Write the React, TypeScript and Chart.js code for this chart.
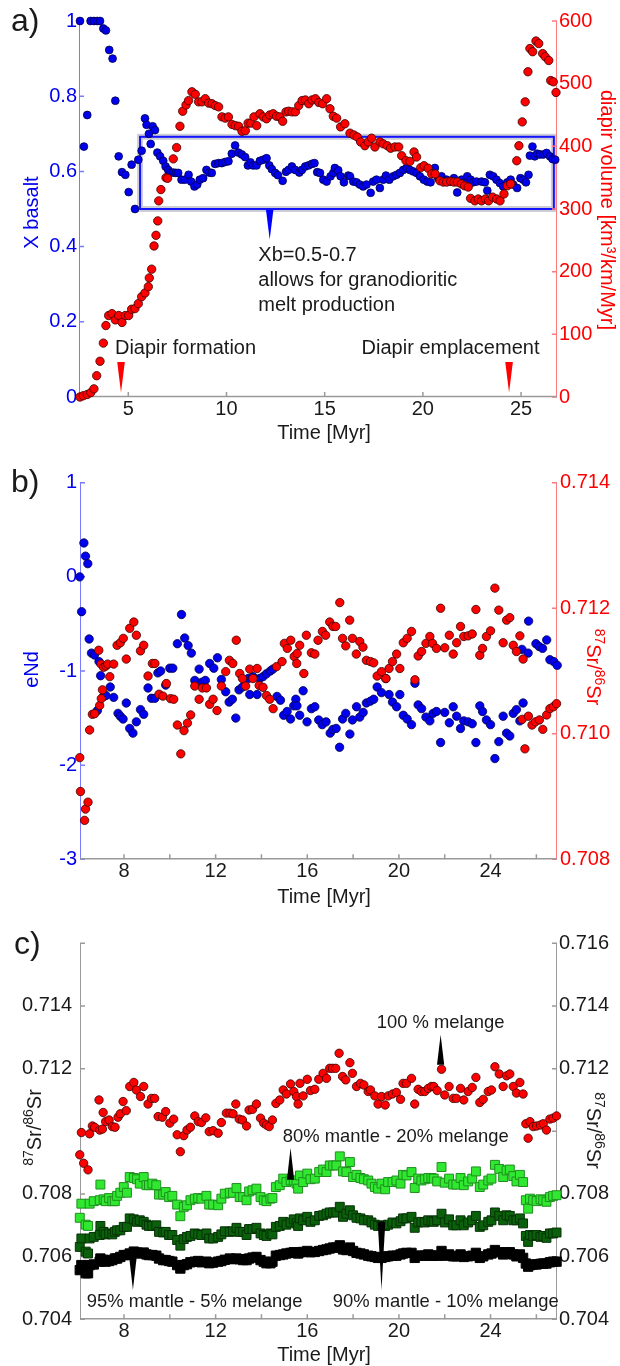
import React, { useEffect, useRef } from 'react';
import { Chart, registerables } from 'chart.js';

Chart.register(...registerables);

const FONT = '"Liberation Sans", Arial, Helvetica, sans-serif';
const INK = '#1a1a1a';
const BLUE = '#0000ee';
const RED = '#ff0000';
const AXIS_BLUE = '#7a7aff';
const AXIS_RED = '#ff7a7a';
const AXIS_GRAY = '#9a9a9a';

// ---------------- Panel a: X basalt and diapir volume ----------------
const aTimeTicks = [5, 10, 15, 20, 25];
const aBasaltTicks = [0, 0.2, 0.4, 0.6, 0.8, 1];
const aVolumeTicks = [0, 100, 200, 300, 400, 500, 600];

const aBasaltTime = [
  2.54, 2.74, 2.91, 3.08, 3.25, 3.42, 3.56, 3.73, 3.86, 4.03,
  4.2, 4.34, 4.51, 4.68, 4.85, 5.02, 5.17, 5.34, 5.51, 5.68,
  5.85, 5.93, 6.05, 6.14, 6.24, 6.36, 6.48, 6.62, 6.78, 6.9,
  7.03, 7.15, 7.29, 7.42, 7.54, 7.71, 7.88, 8.07, 8.2, 8.37,
  8.51, 8.64, 8.81, 8.98, 9.12, 9.25, 9.42, 9.59, 9.76, 9.93,
  10.1, 10.27, 10.44, 10.61, 10.78, 10.95, 11.09, 11.22, 11.36, 11.53,
  11.7, 11.87, 12.04, 12.18, 12.31, 12.48, 12.62, 12.86, 13.03, 13.16,
  13.33, 13.5, 13.71, 13.84, 14.01, 14.18, 14.35, 14.48, 14.62, 14.76,
  14.93, 15.1, 15.3, 15.44, 15.52, 15.69, 15.81, 15.98, 16.2, 16.29,
  16.46, 16.62, 16.79, 16.96, 17.13, 17.34, 17.47, 17.64, 17.81, 17.98,
  18.12, 18.29, 18.49, 18.66, 18.83, 19.0, 19.17, 19.34, 19.51, 19.68,
  19.85, 20.05, 20.22, 20.39, 20.61, 20.78, 20.95, 21.21, 21.38, 21.58,
  21.75, 21.97, 22.09, 22.26, 22.43, 22.56, 22.73, 22.99, 23.16, 23.28,
  23.41, 23.58, 23.75, 23.92, 24.09, 24.3, 24.47, 24.6, 24.8, 24.97,
  25.11, 25.25, 25.38, 25.45, 25.58, 25.7, 25.82, 25.96, 26.13, 26.3,
  26.47, 26.6, 26.74,
];
const aBasaltX = [
  1.0, 0.666, 0.75, 1.0, 1.0, 1.0, 1.0, 0.98, 0.975, 0.923,
  0.9, 0.788, 0.64, 0.598, 0.591, 0.545, 0.618, 0.5, 0.631, 0.655,
  0.741, 0.724, 0.7, 0.673, 0.72, 0.71, 0.65, 0.64, 0.628, 0.613,
  0.604, 0.597, 0.597, 0.596, 0.596, 0.578, 0.578, 0.591, 0.573, 0.56,
  0.565, 0.578, 0.582, 0.604, 0.597, 0.596, 0.62, 0.622, 0.622, 0.625,
  0.627, 0.647, 0.669, 0.65, 0.645, 0.638, 0.616, 0.624, 0.616, 0.616,
  0.628, 0.631, 0.635, 0.616, 0.606, 0.596, 0.59, 0.575, 0.599, 0.604,
  0.613, 0.604, 0.597, 0.604, 0.613, 0.616, 0.62, 0.622, 0.598, 0.596,
  0.578, 0.573, 0.587, 0.596, 0.609, 0.603, 0.587, 0.571, 0.589, 0.587,
  0.573, 0.571, 0.565, 0.56, 0.565, 0.543, 0.573, 0.578, 0.556, 0.578,
  0.589, 0.578, 0.587, 0.591, 0.596, 0.604, 0.609, 0.604, 0.6, 0.596,
  0.587, 0.578, 0.573, 0.571, 0.609, 0.582, 0.587, 0.578, 0.573, 0.582,
  0.544, 0.578, 0.571, 0.587, 0.578, 0.571, 0.573, 0.573, 0.571, 0.549,
  0.591, 0.587, 0.578, 0.569, 0.56, 0.571, 0.578, 0.565, 0.556, 0.582,
  0.578, 0.571, 0.591, 0.642, 0.666, 0.64, 0.647, 0.645, 0.645, 0.649,
  0.64, 0.633, 0.631,
];

const aVolumeTime = [
  2.54, 2.71, 2.91, 3.09, 3.25, 3.39, 3.56, 3.73, 3.86, 4.0,
  4.17, 4.34, 4.51, 4.68, 4.85, 5.02, 5.17, 5.34, 5.51, 5.68,
  5.85, 6.02, 6.07, 6.19, 6.31, 6.41, 6.5, 6.55, 6.66, 6.92,
  7.0, 7.29, 7.46, 7.63, 7.77, 7.94, 8.07, 8.24, 8.41, 8.58,
  8.75, 8.92, 9.09, 9.26, 9.43, 9.6, 9.77, 9.94, 10.1, 10.28,
  10.45, 10.62, 10.79, 10.96, 11.1, 11.24, 11.4, 11.54, 11.7, 11.87,
  12.04, 12.2, 12.38, 12.55, 12.72, 12.86, 13.03, 13.17, 13.34, 13.51,
  13.68, 13.85, 14.02, 14.19, 14.36, 14.53, 14.7, 14.9, 15.1, 15.27,
  15.44, 15.61, 15.81, 16.03, 16.29, 16.49, 16.66, 16.83, 17.05, 17.22,
  17.39, 17.56, 17.82, 17.98, 18.19, 18.36, 18.58, 18.77, 18.92, 19.14,
  19.34, 19.55, 19.68, 19.89, 20.06, 20.27, 20.45, 20.62, 20.87, 21.04,
  21.21, 21.42, 21.58, 21.75, 21.96, 22.13, 22.31, 22.43, 22.65, 22.82,
  22.99, 23.18, 23.35, 23.55, 23.76, 23.93, 24.13, 24.3, 24.47, 24.78,
  24.89, 25.06, 25.21, 25.35, 25.45, 25.59, 25.76, 25.9, 26.1, 26.23,
  26.41, 26.51, 26.64, 26.78,
];
const aVolume = [
  0, 2, 4, 7, 13, 34, 57, 86, 114, 130,
  133, 123, 130, 119, 130, 130, 140, 141, 149, 160,
  166, 176, 190, 204, 241, 258, 281, 313, 331, 350,
  349, 380, 398, 432, 456, 466, 473, 487, 483, 471,
  471, 476, 469, 468, 465, 463, 447, 445, 447, 435,
  433, 432, 424, 425, 437, 437, 447, 433, 452, 447,
  444, 450, 452, 448, 447, 440, 455, 456, 455, 455,
  465, 473, 474, 468, 474, 476, 470, 468, 476, 460,
  448, 445, 431, 436, 421, 418, 415, 407, 401, 407,
  413, 399, 407, 404, 401, 397, 399, 399, 385, 377,
  376, 391, 383, 366, 369, 365, 356, 356, 345, 343,
  343, 344, 343, 343, 340, 337, 335, 317, 313, 316,
  313, 316, 313, 319, 316, 313, 324, 337, 340, 377,
  401, 439, 471, 519, 556, 551, 568, 564, 548, 543,
  537, 505, 503, 486,
];

// ---------------- Panel b: eNd and 87Sr/86Sr ----------------
const bTimeTicks = [8, 10, 12, 14, 16, 18, 20, 22, 24, 26];
const bTimeLabels = [8, 12, 16, 20, 24];
const bNdTicks = [-3, -2, -1, 0, 1];
const bSrTicks = [0.708, 0.71, 0.712, 0.714];

const bNdTime = [
  6.07, 6.15, 6.25, 6.32, 6.42, 6.48, 6.58, 6.71, 6.84, 6.91,
  6.98, 7.11, 7.21, 7.4, 7.55, 7.74, 7.84, 7.96, 8.1, 8.25,
  8.39, 8.54, 8.72, 8.86, 9.05, 9.2, 9.35, 9.48, 9.6, 9.82,
  10.0, 10.13, 10.33, 10.51, 10.65, 10.8, 10.94, 11.09, 11.28, 11.4,
  11.55, 11.74, 11.92, 12.08, 12.25, 12.44, 12.59, 12.73, 12.88, 13.02,
  13.17, 13.42, 13.49, 13.63, 13.81, 13.92, 14.07, 14.22, 14.39, 14.5,
  14.68, 14.83, 14.97, 15.12, 15.27, 15.41, 15.5, 15.55, 15.67, 15.82,
  15.99, 16.18, 16.33, 16.5, 16.65, 16.82, 17.0, 17.12, 17.26, 17.41,
  17.54, 17.68, 17.86, 17.97, 18.15, 18.29, 18.44, 18.58, 18.76, 18.9,
  19.05, 19.24, 19.43, 19.57, 19.72, 19.9, 20.04, 20.19, 20.36, 20.55,
  20.7, 20.84, 20.99, 21.18, 21.35, 21.49, 21.64, 21.82, 22.0, 22.2,
  22.37, 22.52, 22.69, 22.83, 23.02, 23.2, 23.36, 23.53, 23.65, 23.82,
  24.0, 24.19, 24.36, 24.55, 24.7, 24.84, 24.99, 25.13, 25.28, 25.37,
  25.42, 25.64, 25.66, 25.98, 26.12, 26.27, 26.45, 26.59, 26.76, 26.91,
];
const bNd = [
  0.0, -0.37, 0.36, 0.22, 0.14, -0.66, -0.81, -0.83, -1.42, -0.9,
  -1.05, -1.27, -1.26, -1.17, -1.28, -1.45, -1.48, -1.51, -1.34, -1.61,
  -1.66, -1.54, -1.41, -1.46, -1.18, -1.29, -1.29, -1.02, -1.0, -1.15,
  -0.97, -0.97, -0.71, -0.4, -0.65, -0.73, -0.81, -1.1, -0.98, -1.12,
  -1.1, -0.92, -0.97, -0.86, -1.09, -1.22, -1.33, -1.3, -1.5, -1.2,
  -1.17, -1.08, -1.25, -1.06, -1.25, -1.08, -1.06, -1.03, -1.0, -0.98,
  -1.27, -1.31, -1.47, -1.43, -1.51, -1.37, -1.3, -1.37, -1.47, -1.21,
  -1.54, -1.4, -1.38, -1.52, -1.57, -1.54, -1.66, -1.62, -1.61, -1.81,
  -1.51, -1.45, -1.67, -1.52, -1.38, -1.49, -1.44, -1.34, -1.32, -1.3,
  -1.17, -1.23, -1.08, -1.25, -1.33, -1.38, -1.25, -1.47, -1.51, -1.57,
  -1.13, -1.36, -1.4, -1.49, -1.53, -1.45, -1.43, -1.76, -1.44, -1.55,
  -1.38, -1.48, -1.61, -1.53, -1.54, -1.56, -1.76, -1.37, -1.43, -1.52,
  -1.57, -1.93, -1.75, -1.48, -1.66, -1.69, -1.45, -1.41, -1.53, -0.77,
  -1.34, -0.81, -0.47, -0.71, -0.74, -0.76, -0.67, -0.88, -0.9, -0.94,
];

const bSrTime = [
  6.07, 6.1, 6.28, 6.32, 6.43, 6.5, 6.62, 6.72, 6.9, 6.94,
  7.0, 7.01, 7.06, 7.11, 7.21, 7.29, 7.38, 7.55, 7.7, 7.84,
  7.97, 8.1, 8.25, 8.43, 8.54, 8.72, 8.86, 9.05, 9.24, 9.35,
  9.53, 9.7, 9.85, 10.03, 10.17, 10.33, 10.48, 10.62, 10.77, 10.91,
  11.09, 11.28, 11.42, 11.6, 11.74, 11.89, 12.06, 12.25, 12.44, 12.6,
  12.75, 12.9, 13.05, 13.17, 13.31, 13.49, 13.63, 13.81, 13.9, 14.07,
  14.22, 14.36, 14.51, 14.66, 14.9, 15.0, 15.13, 15.28, 15.43, 15.54,
  15.56, 15.67, 15.85, 15.96, 16.18, 16.33, 16.47, 16.66, 16.8, 16.98,
  17.12, 17.24, 17.42, 17.54, 17.68, 17.85, 17.97, 18.14, 18.29, 18.43,
  18.58, 18.76, 18.9, 19.05, 19.24, 19.43, 19.57, 19.72, 19.9, 20.04,
  20.19, 20.36, 20.55, 20.7, 20.84, 20.99, 21.18, 21.35, 21.47, 21.64,
  21.82, 22.0, 22.2, 22.37, 22.52, 22.69, 22.83, 23.02, 23.2, 23.36,
  23.53, 23.65, 23.82, 24.0, 24.19, 24.36, 24.55, 24.7, 24.84, 24.99,
  25.13, 25.28, 25.38, 25.42, 25.5, 25.65, 25.81, 25.96, 26.13, 26.28,
  26.45, 26.59, 26.74, 26.88,
];
const bSr = [
  0.70962, 0.70908, 0.70862, 0.7088, 0.70891, 0.71006, 0.71031, 0.71032, 0.71133, 0.71045,
  0.71111, 0.71056, 0.7107, 0.71106, 0.71108, 0.71111, 0.71091, 0.71111, 0.71141, 0.71145,
  0.71152, 0.71119, 0.71168, 0.71178, 0.71157, 0.71132, 0.71141, 0.71092, 0.71112, 0.71112,
  0.71063, 0.7106, 0.7108, 0.71056, 0.71055, 0.71014, 0.70968, 0.71005, 0.71017, 0.7103,
  0.71076, 0.71055, 0.71073, 0.71073, 0.71047, 0.71055, 0.71037, 0.71076, 0.71099, 0.71117,
  0.71112, 0.71149, 0.71096, 0.71088, 0.71076, 0.71103, 0.71088, 0.71104, 0.71077, 0.71074,
  0.71061, 0.71055, 0.7104, 0.71107, 0.71115, 0.71144, 0.71136, 0.71149, 0.71123, 0.71112,
  0.71128, 0.71141, 0.71096, 0.71157, 0.71129, 0.71127, 0.71149, 0.71163, 0.71157, 0.71178,
  0.71171, 0.71171, 0.71209, 0.71152, 0.7114, 0.71181, 0.71152, 0.71127, 0.71147, 0.71138,
  0.71117, 0.71115, 0.71113, 0.71092, 0.71099, 0.71088, 0.71104, 0.71115, 0.71127, 0.71104,
  0.71145, 0.71152, 0.71163, 0.71086, 0.71124, 0.71131, 0.71144, 0.71155, 0.71144, 0.71136,
  0.712, 0.71137, 0.71157, 0.71127, 0.71145, 0.71171, 0.71155, 0.71156, 0.71159, 0.71198,
  0.71125, 0.71136, 0.71155, 0.71164, 0.71232, 0.71197, 0.71145, 0.71181, 0.71185, 0.71141,
  0.71131, 0.71156, 0.71023, 0.71119, 0.70976, 0.71028, 0.71014, 0.71019, 0.71022, 0.71007,
  0.7103, 0.7104, 0.71043, 0.71048,
];

// ---------------- Panel c: 87Sr/86Sr of mixtures ----------------
const cSrTicks = [0.704, 0.706, 0.708, 0.71, 0.712, 0.714, 0.716];
const cSrLabelsLeft = [0.704, 0.706, 0.708, 0.712, 0.714];
const cSrLabelsRight = [0.704, 0.706, 0.708, 0.712, 0.714, 0.716];

const cMelangeTime = [
  6.07, 6.14, 6.24, 6.43, 6.5, 6.62, 6.72, 6.91, 6.94, 7.06,
  7.09, 7.2, 7.35, 7.49, 7.61, 7.74, 7.84, 7.96, 8.1, 8.25,
  8.43, 8.54, 8.72, 8.86, 9.05, 9.2, 9.34, 9.49, 9.68, 9.82,
  10.0, 10.17, 10.32, 10.46, 10.61, 10.75, 10.9, 11.09, 11.24, 11.38,
  11.57, 11.72, 11.89, 12.11, 12.25, 12.47, 12.62, 12.76, 12.88, 13.03,
  13.17, 13.35, 13.46, 13.61, 13.78, 13.96, 14.1, 14.22, 14.34, 14.48,
  14.63, 14.8, 14.95, 15.09, 15.27, 15.41, 15.53, 15.6, 15.68, 15.82,
  16.0, 16.14, 16.33, 16.5, 16.69, 16.84, 16.98, 17.1, 17.24, 17.39,
  17.54, 17.68, 17.86, 17.97, 18.15, 18.32, 18.47, 18.66, 18.76, 18.95,
  19.09, 19.24, 19.4, 19.53, 19.72, 19.89, 20.07, 20.18, 20.33, 20.55,
  20.69, 20.84, 20.98, 21.13, 21.28, 21.42, 21.52, 21.67, 21.86, 22.0,
  22.19, 22.37, 22.51, 22.69, 22.83, 23.02, 23.2, 23.36, 23.53, 23.68,
  23.9, 24.04, 24.19, 24.38, 24.55, 24.7, 24.84, 24.99, 25.13, 25.28,
  25.42, 25.54, 25.64, 25.72, 25.86, 26.01, 26.18, 26.3, 26.44, 26.59,
  26.73, 26.88,
];
const cMelange100 = [
  0.70925, 0.70996, 0.70898, 0.70877, 0.70992, 0.71017, 0.71013, 0.711, 0.71004, 0.71007,
  0.7106, 0.71031, 0.71036, 0.71015, 0.71013, 0.71045, 0.71056, 0.71095, 0.71066, 0.71143,
  0.71156, 0.71132, 0.71111, 0.71143, 0.71087, 0.71105, 0.71105, 0.71047, 0.71045, 0.71063,
  0.71026, 0.71039, 0.70989, 0.70935, 0.70986, 0.71004, 0.71013, 0.71049, 0.71031, 0.71028,
  0.71043, 0.70999, 0.71002, 0.70994, 0.71028, 0.71058, 0.71058, 0.71056, 0.71087, 0.71039,
  0.71036, 0.71017, 0.71068, 0.7107, 0.71087, 0.71042, 0.71026, 0.7102, 0.71015, 0.71036,
  0.71089, 0.711, 0.71132, 0.71119, 0.71151, 0.71127, 0.71111, 0.71087, 0.71153, 0.71113,
  0.71166, 0.7113, 0.71134, 0.71166, 0.71185, 0.71169, 0.71201, 0.71201, 0.71201, 0.71249,
  0.71175, 0.71164, 0.71219, 0.71185, 0.71143, 0.71153, 0.71148, 0.71127, 0.71132, 0.71113,
  0.71087, 0.71111, 0.71084, 0.71113, 0.71119, 0.71124, 0.71102, 0.71153, 0.71153, 0.71169,
  0.71087, 0.71134, 0.71127, 0.71127, 0.71137, 0.71143, 0.71143, 0.7113, 0.71198, 0.71116,
  0.71143, 0.71105, 0.71105, 0.71137, 0.711, 0.71127, 0.7114, 0.71172, 0.71092, 0.71102,
  0.71127, 0.71132, 0.71206, 0.71183, 0.71143, 0.71177, 0.71183, 0.71143, 0.71122, 0.71156,
  0.71119, 0.71024, 0.70978, 0.71031, 0.71015, 0.71017, 0.7102, 0.71024, 0.71004, 0.71039,
  0.71042, 0.71049,
];

const cMixTime = [
  6.07, 6.14, 6.33, 6.43, 6.5, 6.68, 6.94, 6.97, 7.11, 7.2,
  7.35, 7.49, 7.6, 7.7, 7.84, 7.99, 8.13, 8.25, 8.43, 8.57,
  8.69, 8.86, 8.98, 9.09, 9.24, 9.41, 9.53, 9.71, 9.82, 9.97,
  10.11, 10.32, 10.46, 10.61, 10.75, 10.9, 11.09, 11.24, 11.38, 11.6,
  11.72, 11.89, 12.11, 12.25, 12.4, 12.62, 12.76, 12.91, 13.05, 13.2,
  13.35, 13.46, 13.61, 13.78, 13.96, 14.1, 14.22, 14.39, 14.48, 14.63,
  14.8, 14.95, 15.09, 15.27, 15.41, 15.53, 15.6, 15.68, 15.82, 16.0,
  16.14, 16.33,
  16.52, 16.69, 16.84, 16.98, 17.13, 17.27, 17.42, 17.56, 17.71, 17.86,
  18.0, 18.15, 18.32, 18.47, 18.66, 18.8, 18.95, 19.09, 19.24, 19.4,
  19.53, 19.72, 19.89, 20.07, 20.18, 20.33, 20.55, 20.69, 20.84, 20.98,
  21.13, 21.28, 21.42, 21.52, 21.67, 21.86, 22.0, 22.19, 22.37, 22.51,
  22.69, 22.83, 23.02, 23.2, 23.36, 23.53, 23.68, 23.9, 24.04, 24.19,
  24.38, 24.55, 24.7, 24.84, 24.99, 25.13, 25.28, 25.42, 25.54, 25.64,
  25.72, 25.86, 26.01, 26.18, 26.3, 26.44, 26.59, 26.73, 26.88,
];
const cMantle80 = [
  0.70724, 0.70769, 0.70702, 0.70698, 0.70769, 0.70777, 0.7078, 0.7083, 0.70783, 0.70777,
  0.70787, 0.70777, 0.70777, 0.70794, 0.70804, 0.70822, 0.70804, 0.70854, 0.70851, 0.70847,
  0.70833, 0.70854, 0.70828, 0.70828, 0.70833, 0.70828, 0.70798, 0.70798, 0.70806, 0.7079,
  0.70794, 0.70766, 0.70729, 0.70759, 0.70764, 0.7078, 0.70785, 0.70787, 0.70785, 0.70794,
  0.70766, 0.70766, 0.70764, 0.70785, 0.70801, 0.70804, 0.70804, 0.70819, 0.7079, 0.7079,
  0.7078, 0.70808, 0.70812, 0.70817, 0.7079, 0.7078, 0.70777, 0.70785, 0.70787, 0.70822,
  0.70828, 0.70849, 0.70838, 0.70843, 0.70843, 0.70833, 0.70817, 0.70859, 0.70838, 0.70865,
  0.70847, 0.70849,
  0.7087, 0.70878, 0.7087, 0.70891, 0.70891, 0.70891, 0.7092, 0.70872, 0.7087, 0.70902,
  0.70854, 0.70861, 0.70851, 0.70847, 0.70843, 0.70833, 0.70822, 0.70817, 0.70833, 0.70815,
  0.70838, 0.70838, 0.70843, 0.70833, 0.70861, 0.70859, 0.7087, 0.70819, 0.70849, 0.70843,
  0.70847, 0.70851, 0.70851, 0.70849, 0.7084, 0.70886, 0.70836, 0.70849, 0.7083, 0.7083,
  0.70851, 0.70828, 0.7084, 0.70849, 0.70872, 0.70822, 0.7083, 0.70843, 0.70849, 0.70893,
  0.7088, 0.70854, 0.70875, 0.70878, 0.70857, 0.7084, 0.70861, 0.70838, 0.7078, 0.70753,
  0.70785, 0.7078, 0.70777, 0.70783, 0.7078, 0.70775, 0.7079, 0.70794, 0.70796,
];
const cMantle90 = [
  0.70631, 0.70658, 0.70616, 0.7061, 0.70658, 0.70663, 0.70669, 0.70698, 0.70679, 0.70671,
  0.70674, 0.70671, 0.70679, 0.70684, 0.70684, 0.70695, 0.70695, 0.70722, 0.70719, 0.70711,
  0.70716, 0.70711, 0.70702, 0.70698, 0.70698, 0.707, 0.70679, 0.70677, 0.70679, 0.70669,
  0.70669, 0.70653, 0.70635, 0.70656, 0.70663, 0.70666, 0.70674, 0.70671, 0.70669, 0.70674,
  0.70658, 0.70658, 0.70663, 0.70671, 0.70681, 0.70679, 0.70681, 0.70692, 0.70679, 0.70679,
  0.70669, 0.70688, 0.70688, 0.70692, 0.70674, 0.70669, 0.70666, 0.70674, 0.70671, 0.70695,
  0.70698, 0.70711, 0.70702, 0.70709, 0.70719, 0.70706, 0.70698, 0.70722, 0.70716, 0.70727,
  0.70711, 0.70716,
  0.7073, 0.70732, 0.70737, 0.70741, 0.70741, 0.70741, 0.70759, 0.70727, 0.70737, 0.70748,
  0.70732, 0.70724, 0.70722, 0.70716, 0.70716, 0.70709, 0.70702, 0.70698, 0.707, 0.70698,
  0.70702, 0.70709, 0.70706, 0.70713, 0.70722, 0.70722, 0.70727, 0.70692, 0.70709, 0.70711,
  0.70709, 0.70716, 0.70713, 0.70711, 0.70716, 0.70737, 0.70709, 0.70719, 0.707, 0.707,
  0.70716, 0.707, 0.70709, 0.70716, 0.7073, 0.70695, 0.707, 0.70711, 0.70716, 0.70741,
  0.7073, 0.70716, 0.70732, 0.7073, 0.70716, 0.70716, 0.70722, 0.70706, 0.70666, 0.70647,
  0.70669, 0.70666, 0.70669, 0.70663, 0.70666, 0.7066, 0.70674, 0.70674, 0.70677,
];
const cMantle95 = [
  0.70557, 0.70573, 0.70547, 0.70547, 0.70573, 0.70575, 0.70584, 0.70594, 0.7059, 0.70584,
  0.70586, 0.70589, 0.70594, 0.70594, 0.70599, 0.70605, 0.70605, 0.7061, 0.70616, 0.70613,
  0.7061, 0.70613, 0.70607, 0.70605, 0.70605, 0.70603, 0.70594, 0.70589, 0.70589, 0.70586,
  0.70584, 0.70573, 0.70562, 0.70573, 0.70576, 0.70582, 0.70584, 0.70586, 0.70582, 0.70584,
  0.70579, 0.70581, 0.70584, 0.70586, 0.7059, 0.70594, 0.70592, 0.70594, 0.70592, 0.70589,
  0.70589, 0.70594, 0.70597, 0.70599, 0.70589, 0.70584, 0.70579, 0.70579, 0.70584, 0.70603,
  0.70605, 0.70607, 0.7061, 0.70612, 0.70614, 0.70612, 0.7061, 0.70614, 0.70615, 0.70618,
  0.70614, 0.70615,
  0.70618, 0.70621, 0.70623, 0.70626, 0.70629, 0.70629, 0.70636, 0.70623, 0.70621, 0.70629,
  0.70618, 0.70612, 0.7061, 0.70607, 0.70603, 0.70601, 0.70599, 0.70596, 0.70596, 0.70599,
  0.70601, 0.70603, 0.70603, 0.70607, 0.7061, 0.70612, 0.70612, 0.70596, 0.70603, 0.70603,
  0.70603, 0.70607, 0.70603, 0.70603, 0.70603, 0.70618, 0.70603, 0.70607, 0.70601, 0.70601,
  0.70607, 0.70599, 0.70601, 0.70603, 0.70612, 0.70596, 0.70601, 0.70607, 0.7061, 0.70621,
  0.70614, 0.70607, 0.70614, 0.70614, 0.70607, 0.70601, 0.70607, 0.70596, 0.70578, 0.70568,
  0.70573, 0.70575, 0.70575, 0.70577, 0.70578, 0.70578, 0.70582, 0.70584, 0.70584,
];

// ---------------- helpers ----------------
function pairs(xs: number[], ys: number[]) {
  const n = Math.min(xs.length, ys.length);
  const out: { x: number; y: number }[] = [];
  for (let i = 0; i < n; i++) out.push({ x: xs[i], y: ys[i] });
  return out;
}

function axis(o: any) {
  return {
    type: 'linear',
    position: o.position,
    min: o.min,
    max: o.max,
    grid: { display: false, drawTicks: false },
    border: { display: false },
    ticks: {
      color: o.color,
      font: { family: FONT, size: 20 },
      padding: o.padding,
      autoSkip: false,
      maxRotation: 0,
      minRotation: 0,
      callback: o.label,
    },
    afterBuildTicks: (s: any) => {
      s.ticks = o.values.map((v: number) => ({ value: v }));
    },
    afterFit: (s: any) => {
      if (o.width !== undefined) s.width = o.width;
      if (o.height !== undefined) s.height = o.height;
    },
  };
}

type Part = { text: string; sup?: boolean };

function drawParts(ctx: CanvasRenderingContext2D, parts: Part[], x: number, y: number, rot: number, color: string) {
  ctx.save();
  ctx.fillStyle = color;
  ctx.textBaseline = 'alphabetic';
  ctx.textAlign = 'left';
  let total = 0;
  const widths = parts.map((p) => {
    ctx.font = `${p.sup ? 14 : 20}px ${FONT}`;
    const w = ctx.measureText(p.text).width;
    total += w;
    return w;
  });
  ctx.translate(x, y);
  ctx.rotate(rot);
  let cur = -total / 2;
  parts.forEach((p, i) => {
    ctx.font = `${p.sup ? 14 : 20}px ${FONT}`;
    ctx.fillText(p.text, cur, p.sup ? -8 : 0);
    cur += widths[i];
  });
  ctx.restore();
}

const srParts: Part[] = [
  { text: '87', sup: true },
  { text: 'Sr/' },
  { text: '86', sup: true },
  { text: 'Sr' },
];

function decorPlugin(spec: any) {
  return {
    id: 'decor',
    beforeDatasetsDraw(chart: any) {
      const ctx: CanvasRenderingContext2D = chart.ctx;
      const ca = chart.chartArea;
      if (spec.box) {
        const b = spec.box;
        const xs = chart.scales[b.xAxis];
        const ys = chart.scales[b.yAxis];
        const x0 = xs.getPixelForValue(b.x0);
        const x1 = xs.getPixelForValue(b.x1);
        const y0 = ys.getPixelForValue(b.y1);
        const y1 = ys.getPixelForValue(b.y0);
        ctx.save();
        ctx.strokeStyle = 'rgba(200,200,210,0.9)';
        ctx.lineWidth = 6;
        ctx.strokeRect(x0, y0, x1 - x0, y1 - y0);
        ctx.strokeStyle = '#1414ff';
        ctx.lineWidth = 2;
        ctx.strokeRect(x0, y0, x1 - x0, y1 - y0);
        ctx.restore();
      }
      for (const a of spec.axes) {
        const sc = chart.scales[a.id];
        ctx.save();
        ctx.strokeStyle = a.color;
        ctx.lineWidth = a.width || 1;
        ctx.beginPath();
        if (a.side === 'left') {
          ctx.moveTo(ca.left + 0.5, ca.top);
          ctx.lineTo(ca.left + 0.5, ca.bottom);
        } else if (a.side === 'right') {
          ctx.moveTo(ca.right - 0.5, ca.top);
          ctx.lineTo(ca.right - 0.5, ca.bottom);
        } else {
          ctx.moveTo(ca.left, ca.bottom - 0.5);
          ctx.lineTo(ca.right, ca.bottom - 0.5);
        }
        ctx.stroke();
        ctx.strokeStyle = a.tickColor || a.color;
        ctx.lineWidth = 1.5;
        ctx.beginPath();
        for (const v of a.values) {
          const p = sc.getPixelForValue(v);
          if (a.side === 'left') {
            ctx.moveTo(ca.left, p);
            ctx.lineTo(ca.left + 5, p);
          } else if (a.side === 'right') {
            ctx.moveTo(ca.right, p);
            ctx.lineTo(ca.right - 5, p);
          } else {
            ctx.moveTo(p, ca.bottom);
            ctx.lineTo(p, ca.bottom - 5);
          }
        }
        ctx.stroke();
        ctx.restore();
      }
    },
    afterDatasetsDraw(chart: any) {
      const ctx: CanvasRenderingContext2D = chart.ctx;
      for (const tr of spec.triangles || []) {
        const xs = chart.scales[tr.xAxis];
        const ys = chart.scales[tr.yAxis];
        const px = xs.getPixelForValue(tr.x);
        const pb = ys.getPixelForValue(tr.base);
        const pt = ys.getPixelForValue(tr.tip);
        ctx.save();
        ctx.fillStyle = tr.color;
        ctx.beginPath();
        ctx.moveTo(px - tr.half, pb);
        ctx.lineTo(px + tr.half, pb);
        ctx.lineTo(px, pt);
        ctx.closePath();
        ctx.fill();
        ctx.restore();
      }
      for (const t of spec.texts || []) {
        const xs = chart.scales[t.xAxis];
        const ys = chart.scales[t.yAxis];
        ctx.save();
        ctx.fillStyle = INK;
        ctx.font = `${spec.textSize || 20}px ${FONT}`;
        ctx.textAlign = 'left';
        ctx.textBaseline = 'alphabetic';
        ctx.fillText(t.text, xs.getPixelForValue(t.x), ys.getPixelForValue(t.y));
        ctx.restore();
      }
      for (const tt of spec.titles || []) {
        drawParts(ctx, tt.parts, tt.x, tt.y, tt.rot, tt.color);
      }
      if (spec.panel) {
        ctx.save();
        ctx.fillStyle = INK;
        ctx.font = `32px ${FONT}`;
        ctx.textAlign = 'left';
        ctx.textBaseline = 'alphabetic';
        ctx.fillText(spec.panel.text, spec.panel.x, spec.panel.y);
        ctx.restore();
      }
    },
  };
}

function circleSet(data: any[], fill: string, edge: string, yAxisID: string, r: number) {
  return {
    data,
    yAxisID,
    xAxisID: 'x',
    pointStyle: 'circle',
    pointRadius: r,
    pointBackgroundColor: fill,
    pointBorderColor: edge,
    pointBorderWidth: 0.8,
    showLine: false,
    clip: false,
  };
}

function squareSet(data: any[], fill: string, edge: string, r: number) {
  return {
    data,
    yAxisID: 'y',
    xAxisID: 'x',
    pointStyle: 'rect',
    pointRadius: r,
    pointBackgroundColor: fill,
    pointBorderColor: edge,
    pointBorderWidth: 1,
    showLine: false,
    clip: false,
  };
}

function baseOptions(padTop: number, scales: any) {
  return {
    responsive: false,
    maintainAspectRatio: false,
    animation: false,
    devicePixelRatio: 1,
    events: [],
    layout: { padding: { top: padTop, left: 0, right: 0, bottom: 0 } },
    plugins: { legend: { display: false }, tooltip: { enabled: false }, title: { display: false } },
    scales,
  };
}

const timeTitle: Part[] = [{ text: 'Time [Myr]' }];

function buildA() {
  const H = 460;
  return {
    type: 'scatter',
    data: {
      datasets: [
        circleSet(pairs(aVolumeTime, aVolume), RED, '#3a0000', 'yR', 4.2),
        circleSet(pairs(aBasaltTime, aBasaltX), BLUE, '#00004a', 'y', 3.9),
      ],
    },
    options: baseOptions(21, {
      x: axis({ position: 'bottom', min: 2.49, max: 26.83, values: aTimeTicks, label: (v: number) => String(v), color: INK, padding: 0, height: H - 397 }),
      y: axis({ position: 'left', min: 0, max: 1, values: aBasaltTicks, label: (v: number) => String(v), color: BLUE, padding: 2, width: 79 }),
      yR: axis({ position: 'right', min: 0, max: 600, values: aVolumeTicks, label: (v: number) => String(v), color: RED, padding: 2, width: 620 - 557 }),
    }),
    plugins: [
      decorPlugin({
        box: { xAxis: 'x', yAxis: 'y', x0: 5.6, x1: 26.67, y0: 0.5, y1: 0.692 },
        axes: [
          { id: 'y', side: 'left', color: AXIS_BLUE, values: aBasaltTicks },
          { id: 'yR', side: 'right', color: AXIS_RED, values: aVolumeTicks },
          { id: 'x', side: 'bottom', color: AXIS_GRAY, width: 1.4, values: aTimeTicks },
        ],
        triangles: [
          { xAxis: 'x', yAxis: 'yR', x: 4.63, base: 56, tip: 7, half: 3.8, color: RED },
          { xAxis: 'x', yAxis: 'yR', x: 24.39, base: 56, tip: 7, half: 3.8, color: RED },
          { xAxis: 'x', yAxis: 'y', x: 12.2, base: 0.498, tip: 0.419, half: 3.7, color: '#0000ff' },
        ],
        textSize: 20,
        texts: [
          { xAxis: 'x', yAxis: 'yR', x: 4.32, y: 69, text: 'Diapir formation' },
          { xAxis: 'x', yAxis: 'yR', x: 16.88, y: 69, text: 'Diapir emplacement' },
          { xAxis: 'x', yAxis: 'y', x: 11.62, y: 0.363, text: 'Xb=0.5-0.7' },
          { xAxis: 'x', yAxis: 'y', x: 11.62, y: 0.2965, text: 'allows for granodioritic' },
          { xAxis: 'x', yAxis: 'y', x: 11.62, y: 0.23, text: 'melt production' },
        ],
        titles: [
          { parts: timeTitle, x: 324, y: 439.3, rot: 0, color: INK },
          { parts: [{ text: 'X basalt' }], x: 38.3, y: 212.5, rot: -Math.PI / 2, color: BLUE },
          { parts: [{ text: 'diapir volume [km³/km/Myr]' }], x: 601, y: 210, rot: Math.PI / 2, color: RED },
        ],
        panel: { text: 'a)', x: 11, y: 31 },
      }),
    ],
  };
}

function buildB() {
  const top = 460;
  const H = 455;
  return {
    type: 'scatter',
    data: {
      datasets: [
        circleSet(pairs(bSrTime, bSr), RED, '#3a0000', 'yR', 4.2),
        circleSet(pairs(bNdTime, bNd), BLUE, '#00004a', 'y', 4.2),
      ],
    },
    options: baseOptions(482.7 - top, {
      x: axis({ position: 'bottom', min: 6.08, max: 26.9, values: bTimeTicks, label: (v: number) => (bTimeLabels.includes(v) ? String(v) : ''), color: INK, padding: 0, height: H - (859.3 - top) }),
      y: axis({ position: 'left', min: -3, max: 1, values: bNdTicks, label: (v: number) => String(v), color: BLUE, padding: 3, width: 80 }),
      yR: axis({ position: 'right', min: 0.708, max: 0.714, values: bSrTicks, label: (v: number) => v.toFixed(3), color: RED, padding: 3, width: 620 - 557 }),
    }),
    plugins: [
      decorPlugin({
        axes: [
          { id: 'y', side: 'left', color: AXIS_BLUE, values: bNdTicks },
          { id: 'yR', side: 'right', color: AXIS_RED, values: bSrTicks },
          { id: 'x', side: 'bottom', color: AXIS_GRAY, width: 1.4, values: bTimeTicks },
        ],
        titles: [
          { parts: timeTitle, x: 324, y: 902.6 - top, rot: 0, color: INK },
          { parts: [{ text: 'eNd' }], x: 38.3, y: 669.5 - top, rot: -Math.PI / 2, color: BLUE },
          { parts: srParts, x: 587, y: 667 - top, rot: Math.PI / 2, color: RED },
        ],
        panel: { text: 'b)', x: 11, y: 491.5 - top },
      }),
    ],
  };
}

function buildC() {
  const top = 915;
  const H = 451;
  return {
    type: 'scatter',
    data: {
      datasets: [
        circleSet(pairs(cMelangeTime, cMelange100), RED, '#3a0000', 'y', 4.2),
        squareSet(pairs(cMixTime, cMantle80), '#2fe82f', '#1f8f1f', 6.3),
        squareSet(pairs(cMixTime, cMantle90), '#0b600b', '#063206', 6.3),
        squareSet(pairs(cMixTime, cMantle95), '#000000', '#000000', 6.6),
      ],
    },
    options: baseOptions(943.3 - top, {
      x: axis({ position: 'bottom', min: 6.08, max: 26.9, values: bTimeTicks, label: (v: number) => (bTimeLabels.includes(v) ? String(v) : ''), color: INK, padding: 0, height: H - (1319.3 - top) }),
      y: axis({ position: 'left', min: 0.704, max: 0.716, values: cSrTicks, label: (v: number) => (cSrLabelsLeft.includes(v) ? v.toFixed(3) : ''), color: INK, padding: 8, width: 80 }),
      yR: axis({ position: 'right', min: 0.704, max: 0.716, values: cSrTicks, label: (v: number) => (cSrLabelsRight.includes(v) ? v.toFixed(3) : ''), color: INK, padding: 2, width: 620 - 557 }),
    }),
    plugins: [
      decorPlugin({
        axes: [
          { id: 'y', side: 'left', color: AXIS_GRAY, values: cSrTicks },
          { id: 'yR', side: 'right', color: AXIS_GRAY, values: cSrTicks },
          { id: 'x', side: 'bottom', color: AXIS_GRAY, width: 1.4, values: bTimeTicks },
        ],
        triangles: [
          { xAxis: 'x', yAxis: 'y', x: 21.82, base: 0.71212, tip: 0.71308, half: 3.6, color: '#000' },
          { xAxis: 'x', yAxis: 'y', x: 15.27, base: 0.70845, tip: 0.70947, half: 3.6, color: '#000' },
          { xAxis: 'x', yAxis: 'y', x: 8.39, base: 0.706, tip: 0.70494, half: 3.8, color: '#000' },
          { xAxis: 'x', yAxis: 'y', x: 19.24, base: 0.70711, tip: 0.70494, half: 3.8, color: '#000' },
        ],
        textSize: 18.4,
        texts: [
          { xAxis: 'x', yAxis: 'y', x: 19.03, y: 0.7133, text: '100 % melange' },
          { xAxis: 'x', yAxis: 'y', x: 14.93, y: 0.70966, text: '80% mantle - 20% melange' },
          { xAxis: 'x', yAxis: 'y', x: 6.38, y: 0.7044, text: '95% mantle - 5% melange' },
          { xAxis: 'x', yAxis: 'y', x: 17.11, y: 0.7044, text: '90% mantle - 10% melange' },
        ],
        titles: [
          { parts: timeTitle, x: 324, y: 1361 - top, rot: 0, color: INK },
          { parts: srParts, x: 41, y: 1127.5 - top, rot: -Math.PI / 2, color: INK },
          { parts: srParts, x: 587, y: 1130.5 - top, rot: Math.PI / 2, color: INK },
        ],
        panel: { text: 'c)', x: 14, y: 953.5 - top },
      }),
    ],
  };
}

function ChartCanvas({ top, height, build }: { top: number; height: number; build: () => any }) {
  const ref = useRef<HTMLCanvasElement>(null);
  useEffect(() => {
    const chart = new Chart(ref.current as HTMLCanvasElement, build());
    return () => chart.destroy();
  }, []);
  return (
    <canvas
      ref={ref}
      width={620}
      height={height}
      style={{ position: 'absolute', left: 0, top, width: 620, height, display: 'block' }}
    />
  );
}

export default function App() {
  return (
    <div style={{ position: 'absolute', left: 0, top: 0, width: 620, height: 1366, background: '#ffffff', overflow: 'hidden' }}>
      <ChartCanvas top={0} height={460} build={buildA} />
      <ChartCanvas top={460} height={455} build={buildB} />
      <ChartCanvas top={915} height={451} build={buildC} />
    </div>
  );
}
